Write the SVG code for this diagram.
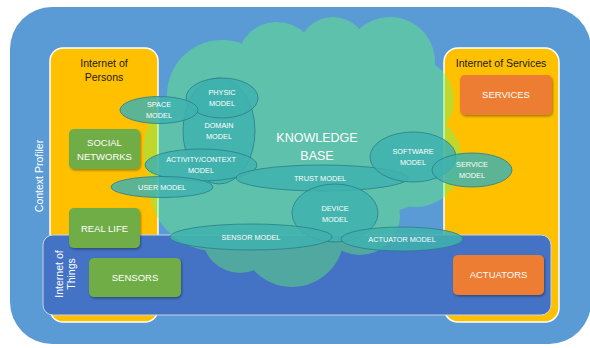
<svg xmlns="http://www.w3.org/2000/svg" width="590" height="348" viewBox="0 0 590 348">
<defs>
<style>
.lbl{font-family:"Liberation Sans",Arial,sans-serif;fill:#fff;text-anchor:middle;}
.ttl{font-family:"Liberation Sans",Arial,sans-serif;fill:#1a1a1a;text-anchor:middle;font-size:10.5px;}
.box{font-size:9.5px;}
.ell{fill:#3fb2ae;fill-opacity:0.85;stroke:#2b7d8a;stroke-width:0.8;}
.el{font-size:7.3px;}
.yel{fill:#ffc000;stroke:#fff;stroke-width:1.5;}
.grn{fill:#70ad47;filter:url(#sh);}
.org{fill:#ed7d31;filter:url(#sh);}
</style>
<filter id="sh" x="-20%" y="-20%" width="140%" height="150%">
<feDropShadow dx="1" dy="1.5" stdDeviation="1" flood-color="#000" flood-opacity="0.35"/>
</filter>
</defs>
<g id="context-profiler">
<rect x="10" y="7" width="581" height="337" rx="42" fill="#5b9bd5"/>
<text class="lbl" font-size="10.5" transform="translate(43,176) rotate(-90)">Context Profiler</text>
</g>
<g id="internet-of-persons">
<rect class="yel" x="50" y="48" width="108" height="274" rx="13"/>
<text class="ttl" x="104" y="67">Internet of</text>
<text class="ttl" x="104" y="81">Persons</text>
</g>
<g id="internet-of-services">
<rect class="yel" x="444" y="48" width="115" height="274" rx="14"/>
<text class="ttl" x="501" y="67">Internet of Services</text>
</g>
<g id="internet-of-things">
<rect x="43" y="235" width="508" height="80" rx="10" fill="#4472c4" stroke="#c9d3e8" stroke-width="1"/>
<text class="lbl" font-size="10.5" transform="translate(63,274) rotate(-90)">Internet of</text>
<text class="lbl" font-size="10.5" transform="translate(75,274) rotate(-90)">Things</text>
</g>
<g id="knowledge-base">
<g opacity="0.4" fill="rgb(100,250,110)">
<circle cx="222" cy="95" r="55"/>
<circle cx="277" cy="62" r="40"/>
<circle cx="333" cy="52" r="35"/>
<circle cx="390" cy="62" r="45"/>
<circle cx="412" cy="100" r="42"/>
<circle cx="415" cy="160" r="47"/>
<circle cx="200" cy="150" r="57"/>
<circle cx="215" cy="185" r="66"/>
<circle cx="240" cy="235" r="38"/>
<circle cx="292" cy="235" r="52"/>
<circle cx="360" cy="215" r="40"/>
<circle cx="395" cy="180" r="30"/>
<ellipse cx="310" cy="140" rx="110" ry="90"/>
</g>
<text class="lbl" font-size="12.5" x="317" y="142">KNOWLEDGE</text>
<text class="lbl" font-size="12.5" x="317" y="160">BASE</text>
</g>
<g id="social-networks">
<rect class="grn" x="69" y="129" width="71" height="40" rx="5"/>
<text class="lbl box" x="104.5" y="146">SOCIAL</text>
<text class="lbl box" x="104.5" y="160">NETWORKS</text>
</g>
<g id="real-life">
<rect class="grn" x="69" y="208" width="71" height="40" rx="5"/>
<text class="lbl box" x="104.5" y="231.5">REAL LIFE</text>
</g>
<g id="sensors">
<rect class="grn" x="89" y="258" width="92" height="39" rx="5"/>
<text class="lbl box" x="135" y="281">SENSORS</text>
</g>
<g id="services">
<rect class="org" x="460" y="75" width="92" height="40" rx="5"/>
<text class="lbl box" x="506" y="98">SERVICES</text>
</g>
<g id="actuators">
<rect class="org" x="453" y="255" width="91" height="40" rx="5"/>
<text class="lbl box" x="498.5" y="278">ACTUATORS</text>
</g>
<g id="domain-model">
<ellipse class="ell" cx="219" cy="131" rx="36" ry="53"/>
<text class="lbl el" x="219" y="128">DOMAIN</text>
<text class="lbl el" x="219" y="139">MODEL</text>
</g>
<g id="physic-model">
<ellipse class="ell" cx="222" cy="98" rx="36" ry="20"/>
<text class="lbl el" x="222" y="95">PHYSIC</text>
<text class="lbl el" x="222" y="106">MODEL</text>
</g>
<g id="space-model">
<ellipse class="ell" cx="159" cy="110" rx="39" ry="13.5"/>
<text class="lbl el" x="159" y="107">SPACE</text>
<text class="lbl el" x="159" y="118">MODEL</text>
</g>
<g id="activity-context-model">
<ellipse class="ell" cx="201" cy="165" rx="56" ry="16"/>
<text class="lbl el" x="201" y="162">ACTIVITY/CONTEXT</text>
<text class="lbl el" x="201" y="173">MODEL</text>
</g>
<g id="user-model">
<ellipse class="ell" cx="162" cy="187" rx="51" ry="10.5"/>
<text class="lbl el" x="162" y="189.5">USER MODEL</text>
</g>
<g id="trust-model">
<ellipse class="ell" cx="322" cy="178" rx="86" ry="13"/>
<text class="lbl el" x="320" y="180.5">TRUST MODEL</text>
</g>
<g id="software-model">
<ellipse class="ell" cx="413" cy="157" rx="43" ry="25"/>
<text class="lbl el" x="413" y="154">SOFTWARE</text>
<text class="lbl el" x="413" y="165">MODEL</text>
</g>
<g id="service-model">
<ellipse class="ell" cx="472" cy="170" rx="40" ry="17"/>
<text class="lbl el" x="472" y="167">SERVICE</text>
<text class="lbl el" x="472" y="178">MODEL</text>
</g>
<g id="device-model">
<ellipse class="ell" cx="335" cy="213" rx="43" ry="29"/>
<text class="lbl el" x="335" y="211">DEVICE</text>
<text class="lbl el" x="335" y="222">MODEL</text>
</g>
<g id="sensor-model">
<ellipse class="ell" cx="251" cy="237" rx="81" ry="13"/>
<text class="lbl el" x="251" y="240">SENSOR MODEL</text>
</g>
<g id="actuator-model">
<ellipse class="ell" cx="402" cy="239" rx="61" ry="12"/>
<text class="lbl el" x="402" y="241.5">ACTUATOR MODEL</text>
</g>
<g id="connectors"/>
</svg>
